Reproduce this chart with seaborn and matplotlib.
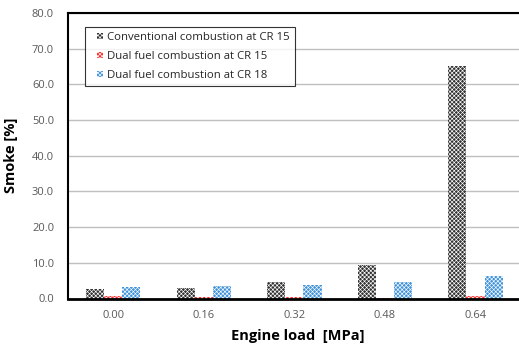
import numpy as np
import pandas as pd
import matplotlib
matplotlib.use("Agg")
import matplotlib.pyplot as plt
import seaborn as sns
from matplotlib.patches import Patch, Rectangle
from matplotlib.legend_handler import HandlerPatch

sns.set_theme(style="white")
plt.rcParams["font.family"] = ["Open Sans", "Noto Sans", "DejaVu Sans"]
plt.rcParams["hatch.linewidth"] = 0.45

loads = ["0.00", "0.16", "0.32", "0.48", "0.64"]
series = ["Conventional combustion at CR 15",
          "Dual fuel combustion at CR 15",
          "Dual fuel combustion at CR 18"]
conventional_cr15 = [2.6, 2.9, 4.6, 9.5, 65.1]
dual_fuel_cr15 = [0.8, 0.4, 0.4, 0.2, 0.7]
dual_fuel_cr18 = [3.2, 3.5, 3.8, 4.6, 6.3]
colors = ["#333333", "#ff2a2a", "#3f93dc"]
HATCH = "xxxxxxxx"

df = pd.DataFrame({
    "load": loads * 3,
    "smoke": conventional_cr15 + dual_fuel_cr15 + dual_fuel_cr18,
    "series": [s for s in series for _ in loads],
})

fig = plt.figure(figsize=(5.19, 3.48), dpi=100)
ax = fig.add_axes([68 / 519, 49.5 / 348, 460 / 519, 285.5 / 348])

sns.barplot(data=df, x="load", y="smoke", hue="series", palette=colors,
            width=0.6, saturation=1, ax=ax, legend=False)

for cont, col in zip(ax.containers, colors):
    for bar in cont:
        bar.set_facecolor(col)
        bar.set_edgecolor("white")
        bar.set_hatch(HATCH)
        bar.set_linewidth(0)

ax.set_xlim(-0.50, 4.58)
ax.set_ylim(0, 80)
ax.set_yticks(np.arange(0, 81, 10))
ax.set_yticklabels([f"{v:.1f}" for v in np.arange(0, 81, 10)])
ax.yaxis.grid(True, color="#bfbfbf", linewidth=1)
ax.set_axisbelow(True)

for side in ["left", "bottom", "top"]:
    ax.spines[side].set_color("black")
ax.spines["left"].set_linewidth(1.5)
ax.spines["bottom"].set_linewidth(2)
ax.spines["top"].set_linewidth(1.5)
ax.spines["right"].set_visible(False)

ax.tick_params(axis="both", length=0, labelsize=8, colors="#595959")
ax.tick_params(axis="x", pad=8)
ax.tick_params(axis="y", pad=10)

ax.set_xlabel("Engine load  [MPa]", fontsize=10.5, fontweight="bold", color="black", labelpad=6)
ax.set_ylabel("Smoke [%]", fontsize=10.5, fontweight="bold", color="black", labelpad=10)


def small_square(legend, orig_handle, xdescent, ydescent, width, height, fontsize):
    # small square swatch placed at the right end of the handle box
    size = 4.2
    return Rectangle((width - size - xdescent, (height - size) / 2 - ydescent), size, size)


handles = [Patch(facecolor=c, edgecolor="white", hatch=HATCH, linewidth=0) for c in colors]
leg = ax.legend(handles, series, loc="upper left", bbox_to_anchor=(0.037, 0.951),
                fontsize=8.2, frameon=True, fancybox=False, handlelength=1.1,
                handleheight=0.6, handletextpad=0.4, borderpad=0.45, labelspacing=0.7,
                borderaxespad=0,
                handler_map={Patch: HandlerPatch(patch_func=small_square)})
leg.get_frame().set_edgecolor("black")
leg.get_frame().set_linewidth(0.8)

fig.savefig("out.png", dpi=100)
